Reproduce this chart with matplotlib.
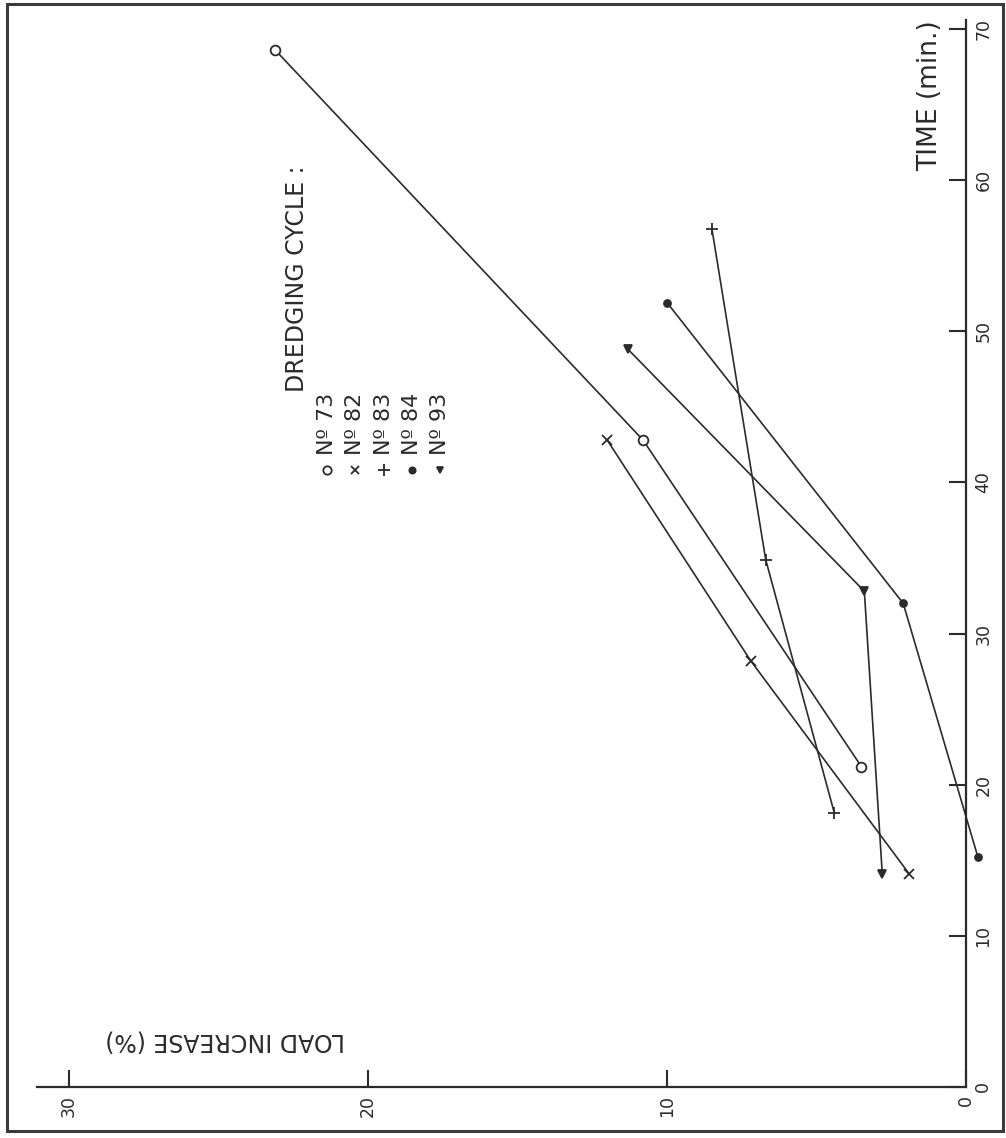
import matplotlib
matplotlib.use("Agg")
import matplotlib.pyplot as plt
from matplotlib.patches import Rectangle

# ---- data (time in min, load increase in %) ----
cycles = ["Nº 73", "Nº 82", "Nº 83", "Nº 84", "Nº 93"]
markers = ["o", "x", "+", ".", "v"]
time_73 = [68.6, 42.8, 21.2]
load_73 = [23.1, 10.8, 3.5]
time_82 = [42.8, 28.2, 14.1]
load_82 = [12.0, 7.2, 1.9]
time_83 = [56.8, 34.9, 18.1]
load_83 = [8.5, 6.7, 4.4]
time_84 = [51.9, 32.0, 15.2]
load_84 = [10.0, 2.1, -0.4]
time_93 = [48.8, 32.8, 14.1]
load_93 = [11.3, 3.4, 2.8]
times = [time_73, time_82, time_83, time_84, time_93]
loads = [load_73, load_82, load_83, load_84, load_93]

time_ticks = [0, 10, 20, 30, 40, 50, 60, 70]
load_ticks = [0, 10, 20, 30]

W, H = 1006, 1138
fig = plt.figure(figsize=(W / 100, H / 100), dpi=100)
fig.patch.set_facecolor("white")

def fx(px):
    return px / W

def fy(py):
    return 1 - py / H

ink = "#2b2b2b"

# axes: horizontal = load (reversed), vertical = time
left_px, right_px, bottom_px, top_px = 37, 966, 1087, 20
ax = fig.add_axes([fx(left_px), fy(bottom_px), (right_px - left_px) / W,
                   (bottom_px - top_px) / H])
px_per_load = (966 - 69) / 30.0
px_per_time = (1087 - 29) / 70.0
ax.set_xlim((right_px - left_px) / px_per_load, 0)
ax.set_ylim(0, (bottom_px - top_px) / px_per_time)
ax.set_facecolor("none")

for s in ["left", "top"]:
    ax.spines[s].set_visible(False)
for s in ["right", "bottom"]:
    ax.spines[s].set_color(ink)
    ax.spines[s].set_linewidth(1.6)

ax.yaxis.tick_right()
ax.set_yticks(time_ticks)
ax.set_yticklabels([str(t) for t in time_ticks], rotation=90, va="center",
                   fontsize=12.5, color=ink)
ax.set_xticks(load_ticks)
ax.set_xticklabels([str(t) for t in load_ticks], rotation=90, ha="center",
                   fontsize=12.5, color=ink)
ax.tick_params(axis="both", direction="in", length=12, width=1.5, color=ink,
               pad=6)

msizes = {"o": 7, "x": 7, "+": 9, ".": 10, "v": 6}
for t, l, m in zip(times, loads, markers):
    ax.plot(l, t, color=ink, lw=1.2, marker=m, ms=msizes[m],
            mfc="white" if m == "o" else ink, mec=ink, mew=1.3,
            clip_on=False)

# axis labels
fig.text(fx(930), fy(20), "TIME (min.)", rotation=90, ha="center", va="top",
         fontsize=19, color=ink)
fig.text(fx(225), fy(1040), "LOAD INCREASE (%)", rotation=180, ha="center",
         va="center", fontsize=17, color=ink)

# legend
fig.text(fx(297), fy(392), "DREDGING CYCLE :", rotation=90, ha="center",
         va="bottom", fontsize=17, color=ink)
leg_x = [327, 355, 384, 412, 440]
for x, m, name in zip(leg_x, markers, cycles):
    fig.add_artist(plt.Line2D([fx(x)], [fy(470)], marker=m, ms=msizes[m] - 1,
                              mfc="white" if m == "o" else ink, mec=ink,
                              mew=1.3, transform=fig.transFigure))
    fig.text(fx(x), fy(455), name, rotation=90, ha="center", va="bottom",
             fontsize=16, color=ink)

# outer frame
fig.add_artist(Rectangle((fx(7), fy(1131)), fx(1003) - fx(7), fy(4) - fy(1131),
                         fill=False, lw=2.2, ec="#3a3a3a",
                         transform=fig.transFigure))

fig.savefig("out.png", dpi=100, facecolor="white")
